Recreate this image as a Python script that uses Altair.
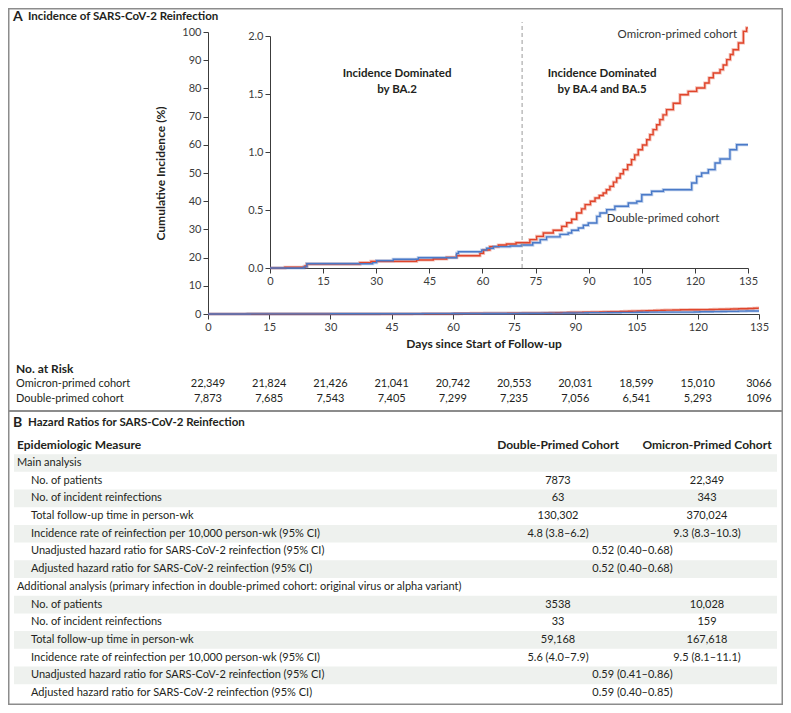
import altair as alt
import pandas as pd

# ---------------- data ----------------
day_ticks = [0, 15, 30, 45, 60, 75, 90, 105, 120, 135]
cohorts = ["Omicron-primed cohort", "Double-primed cohort"]

omicron_days = [0, 4.2, 9.9, 10.4, 25.4, 28.5, 41.4, 46.1, 49.9, 52.7, 59.3, 60.3, 62.1, 64.5, 66.8,
                69.5, 73.4, 75.3, 77.2, 80.0, 82.4, 83.8, 85.2, 86.6, 88.0, 89.0, 90.5, 91.8, 93.0,
                94.1, 95.0, 96.0, 97.0, 97.9, 98.9, 99.8, 101.0, 102.1, 103.0, 104.0, 105.2, 106.4,
                107.3, 108.2, 109.2, 110.1, 111.0, 112.0, 113.9, 115.8, 118.1, 120.5, 122.8, 124.0,
                125.2, 127.1, 128.0, 129.0, 130.0, 130.8, 132.3, 133.7, 134.6, 135.0]
omicron_inc = [0.000, 0.006, 0.017, 0.034, 0.046, 0.057, 0.069, 0.078, 0.092, 0.106, 0.126, 0.155, 0.184,
               0.198, 0.207, 0.218, 0.245, 0.273, 0.302, 0.325, 0.359, 0.390, 0.420, 0.474, 0.510, 0.546,
               0.575, 0.603, 0.625, 0.646, 0.675, 0.704, 0.740, 0.776, 0.812, 0.848, 0.890, 0.934, 0.975,
               1.020, 1.060, 1.106, 1.150, 1.193, 1.235, 1.279, 1.320, 1.365, 1.420, 1.494, 1.523, 1.552,
               1.595, 1.640, 1.681, 1.710, 1.750, 1.796, 1.840, 1.882, 1.940, 2.040, 2.070, 2.070]

double_days = [0, 9.6, 10.4, 29.0, 30.1, 34.8, 41.9, 52.7, 53.2, 59.8, 61.2, 63.1, 67.8, 71.0, 74.2,
               76.3, 78.1, 81.9, 84.2, 85.2, 87.1, 88.5, 89.9, 92.3, 93.2, 95.1, 97.4, 101.2, 103.6,
               105.0, 107.8, 111.1, 119.1, 120.5, 121.9, 123.8, 125.7, 127.1, 129.9, 131.8, 135.0]
double_inc = [0.000, 0.010, 0.037, 0.046, 0.063, 0.075, 0.089, 0.126, 0.140, 0.155, 0.170, 0.184, 0.190,
              0.198, 0.218, 0.245, 0.268, 0.290, 0.302, 0.325, 0.345, 0.368, 0.388, 0.445, 0.474, 0.503,
              0.532, 0.560, 0.575, 0.632, 0.661, 0.675, 0.733, 0.790, 0.819, 0.848, 0.905, 0.940, 1.020,
              1.063, 1.063]

variant_switch_day = 71.2

omicron_at_risk = ["22,349", "21,824", "21,426", "21,041", "20,742", "20,553", "20,031", "18,599", "15,010", "3066"]
double_at_risk = ["7,873", "7,685", "7,543", "7,405", "7,299", "7,235", "7,056", "6,541", "5,293", "1096"]

table_headers = ["Epidemiologic Measure", "Double-Primed Cohort", "Omicron-Primed Cohort"]
measures = [
    "Main analysis",
    "No. of patients",
    "No. of incident reinfections",
    "Total follow-up time in person-wk",
    "Incidence rate of reinfection per 10,000 person-wk (95% CI)",
    "Unadjusted hazard ratio for SARS-CoV-2 reinfection (95% CI)",
    "Adjusted hazard ratio for SARS-CoV-2 reinfection (95% CI)",
    "Additional analysis (primary infection in double-primed cohort: original virus or alpha variant)",
    "No. of patients",
    "No. of incident reinfections",
    "Total follow-up time in person-wk",
    "Incidence rate of reinfection per 10,000 person-wk (95% CI)",
    "Unadjusted hazard ratio for SARS-CoV-2 reinfection (95% CI)",
    "Adjusted hazard ratio for SARS-CoV-2 reinfection (95% CI)",
]
measure_level = [0, 1, 1, 1, 1, 1, 1, 0, 1, 1, 1, 1, 1, 1]
double_col = ["", "7873", "63", "130,302", "4.8 (3.8–6.2)", "", "", "",
              "3538", "33", "59,168", "5.6 (4.0–7.9)", "", ""]
omicron_col = ["", "22,349", "343", "370,024", "9.3 (8.3–10.3)", "", "", "",
               "10,028", "159", "167,618", "9.5 (8.1–11.1)", "", ""]
hazard_col = ["", "", "", "", "", "0.52 (0.40–0.68)", "0.52 (0.40–0.68)", "",
              "", "", "", "", "0.59 (0.41–0.86)", "0.59 (0.40–0.85)"]

# ---------------- styling / layout ----------------
W, H = 775, 697
RED, BLUE = "#E0452B", "#4A7AC8"
TXT, AX = "#231F20", "#3C3C3C"
FRAME = "#8C8C8C"
SHADE = "#EEF1EE"
FONT = "Lato"

MAIN_XR = [200, 751]
MAIN_YR = [306, 24]
INS_XR = [262, 740]
INS_YR = [260, 28]
RISK_YR = [361, 391]
TAB_YR = [455, 685]
LEVEL_XR = [9, 23]
COL_XR = [550, 699]

one = pd.DataFrame({"k": [0]})


def lin(domain, rng):
    return alt.Scale(domain=domain, range=rng, nice=False, zero=False)


def axis(orient, offset, values, **kw):
    d = dict(orient=orient, offset=offset, values=values, grid=False,
             labelFont=FONT, labelFontSize=11, labelColor=AX, tickColor=AX,
             domainColor=AX, tickSize=5, domainWidth=1, tickWidth=1,
             labelPadding=2, labelFlush=False, labelOverlap=False)
    d.update(kw)
    return alt.Axis(**d)


km = pd.concat([
    pd.DataFrame({"day": omicron_days, "inc": omicron_inc, "cohort": cohorts[0]}),
    pd.DataFrame({"day": double_days, "inc": double_inc, "cohort": cohorts[1]}),
], ignore_index=True)

color = alt.Color("cohort:N", scale=alt.Scale(domain=cohorts, range=[RED, BLUE]), legend=None)


def km_lines(xr, ymax, yr, xaxis, yaxis):
    base = alt.Chart(km).encode(
        x=alt.X("day:Q", scale=lin([0, 135], xr), axis=xaxis),
        y=alt.Y("inc:Q", scale=lin([0, ymax], yr), axis=yaxis),
        color=color,
        order=alt.Order("day:Q"),
    )
    halo = base.mark_line(interpolate="step-after", strokeWidth=3.2, opacity=0.35)
    core = base.mark_line(interpolate="step-after", strokeWidth=1.4)
    return alt.layer(halo, core)


# main plot (0-100 %)
main = km_lines(
    MAIN_XR, 100, MAIN_YR,
    axis("bottom", MAIN_YR[0] - H, day_ticks,
         title="Days since Start of Follow-up", titleX=(MAIN_XR[0] + MAIN_XR[1]) / 2, titleY=29,
         titleAlign="center", titleBaseline="middle", titleFont=FONT, titleFontSize=12,
         titleFontWeight="bold", titleColor=TXT),
    axis("left", -MAIN_XR[0], list(range(0, 101, 10)),
         title="Cumulative Incidence (%)", titleX=-48, titleY=(MAIN_YR[0] + MAIN_YR[1]) / 2,
         titleAngle=270, titleAlign="center", titleBaseline="middle", titleFont=FONT,
         titleFontSize=12, titleFontWeight="bold", titleColor=TXT),
)

# inset (0-2 %)
inset = km_lines(
    INS_XR, 2.0, INS_YR,
    axis("bottom", INS_YR[0] - H, day_ticks, title=None),
    axis("left", -INS_XR[0], [0, 0.5, 1.0, 1.5, 2.0], format=".1f", title=None),
)


def ins_x(v):
    return alt.XDatum(v, scale=lin([0, 135], INS_XR), axis=None)


def ins_y(v):
    return alt.YDatum(v, scale=lin([0, 2.0], INS_YR), axis=None)


switch_rule = alt.Chart(one).mark_rule(color="#9A9A9A", strokeWidth=1, strokeDash=[4, 3]).encode(
    x=ins_x(variant_switch_day), y=ins_y(0), y2=alt.datum(2.12))


def note(text, day, val, align="center", bold=True, size=11.5):
    return alt.Chart(one).mark_text(
        text=text, font=FONT, fontSize=size, fontWeight="bold" if bold else "normal",
        color=TXT if bold else "#333333", align=align, baseline="middle", lineHeight=16,
    ).encode(x=ins_x(day), y=ins_y(val))


notes = [
    switch_rule,
    note(["Incidence Dominated", "by BA.2"], 35.9, 1.672),
    note(["Incidence Dominated", "by BA.4 and BA.5"], 93.8, 1.672),
    note("Omicron-primed cohort", 131.9, 2.01, align="right", bold=False, size=11.5),
    note("Double-primed cohort", 111.0, 0.422, bold=False, size=11.5),
]

# No. at risk
risk_df = pd.DataFrame({"day": day_ticks * 2, "n": omicron_at_risk + double_at_risk,
                        "row": [1] * len(day_ticks) + [2] * len(day_ticks)})
risk_nums = alt.Chart(risk_df).mark_text(font=FONT, fontSize=11, color=TXT, align="center",
                                         baseline="middle").encode(
    x=alt.X("day:Q", scale=lin([0, 135], MAIN_XR), axis=None),
    y=alt.Y("row:Q", scale=lin([0, 2], RISK_YR), axis=None),
    text="n:N")
risk_lab = alt.Chart(pd.DataFrame({"label": cohorts, "row": [1, 2]})).mark_text(
    font=FONT, fontSize=11, color=TXT, align="left", baseline="middle").encode(
    x=alt.value(8), y=alt.Y("row:Q", scale=lin([0, 2], RISK_YR), axis=None), text="label:N")
risk_title = alt.Chart(one).mark_text(text="No. at Risk", font=FONT, fontSize=12, fontWeight="bold",
                                      color=TXT, align="left", baseline="middle").encode(
    x=alt.value(8), y=alt.YDatum(0, scale=lin([0, 2], RISK_YR), axis=None))

# Table B
rows = list(range(len(measures)))
shade_df = pd.DataFrame({"lo": [r - 0.5 for r in rows if r % 2 == 0],
                         "hi": [r + 0.5 for r in rows if r % 2 == 0]})
shade = alt.Chart(shade_df).mark_rect(color=SHADE).encode(
    x=alt.value(6), x2=alt.value(769),
    y=alt.Y("lo:Q", scale=lin([0, 13], TAB_YR), axis=None), y2="hi:Q")

lab_df = pd.DataFrame({"label": measures, "row": rows, "level": measure_level})
tab_labels = alt.Chart(lab_df).mark_text(font=FONT, fontSize=11, color=TXT, align="left",
                                         baseline="middle").encode(
    x=alt.X("level:Q", scale=lin([0, 1], LEVEL_XR), axis=None),
    y=alt.Y("row:Q", scale=lin([0, 13], TAB_YR), axis=None),
    text="label:N")

val_recs = []
for r in rows:
    for c, col in ((0, double_col), (1, hazard_col), (2, omicron_col)):
        if col[r]:
            val_recs.append({"row": r, "col": c, "v": col[r]})
val_df = pd.DataFrame(val_recs)
tab_vals = alt.Chart(val_df).mark_text(font=FONT, fontSize=11, color=TXT, align="center",
                                       baseline="middle").encode(
    x=alt.X("col:Q", scale=lin([0, 2], COL_XR), axis=None),
    y=alt.Y("row:Q", scale=lin([0, 13], TAB_YR), axis=None),
    text="v:N")

head_left = alt.Chart(pd.DataFrame({"h": table_headers[:1], "row": [-1], "level": [0]})).mark_text(
    font=FONT, fontSize=12, fontWeight="bold", color=TXT, align="left", baseline="middle").encode(
    x=alt.X("level:Q", scale=lin([0, 1], LEVEL_XR), axis=None),
    y=alt.Y("row:Q", scale=lin([0, 13], TAB_YR), axis=None), text="h:N")
head_cols = alt.Chart(pd.DataFrame({"h": table_headers[1:], "row": [-1, -1], "col": [0, 2]})).mark_text(
    font=FONT, fontSize=12, fontWeight="bold", color=TXT, align="center", baseline="middle").encode(
    x=alt.X("col:Q", scale=lin([0, 2], COL_XR), axis=None),
    y=alt.Y("row:Q", scale=lin([0, 13], TAB_YR), axis=None), text="h:N")


# panel titles and frame
def title_text(text, x, y, size):
    return alt.Chart(one).mark_text(text=text, font=FONT, fontSize=size, fontWeight="bold", color=TXT,
                                    align="left", baseline="middle").encode(x=alt.value(x), y=alt.value(y))


separator = alt.Chart(one).mark_rule(color=FRAME, strokeWidth=2).encode(
    x=alt.value(0), x2=alt.value(W), y=alt.value(403))

chart = alt.layer(
    shade, main, inset, *notes, risk_nums, risk_lab, risk_title,
    tab_labels, tab_vals, head_left, head_cols, separator,
    title_text("A", 5, 9, 14), title_text("Incidence of SARS-CoV-2 Reinfection", 20, 9, 11.5),
    title_text("B", 5, 415, 14), title_text("Hazard Ratios for SARS-CoV-2 Reinfection", 20, 415, 11.5),
).resolve_scale(x="independent", y="independent", color="independent").properties(
    width=W, height=H, autosize=alt.AutoSizeParams(type="none"), padding=0,
).configure_view(stroke=FRAME, strokeWidth=3)

chart.save("out.html", embed_options={"renderer": "svg", "actions": False})
